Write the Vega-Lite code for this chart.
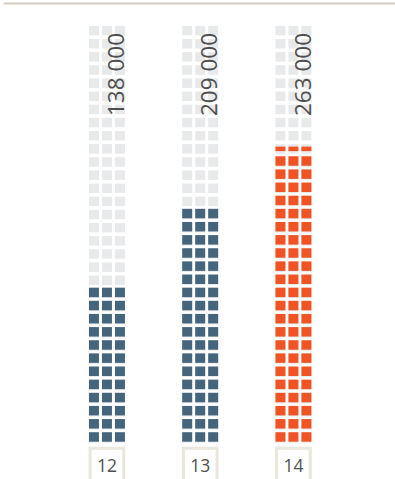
{
  "$schema": "https://vega.github.io/schema/vega-lite/v6.json",
  "autosize": {"type": "none"},
  "padding": {"left": 3, "top": 3, "right": 0, "bottom": 0},
  "width": 392,
  "height": 477,
  "background": "white",
  "config": {"view": {"stroke": null}},
  "datasets": {
    "grid": [
      {"year":"12","row":0,"level":1,"sub":[0,1,2]},{"year":"12","row":1,"level":1,"sub":[0,1,2]},{"year":"12","row":2,"level":1,"sub":[0,1,2]},{"year":"12","row":3,"level":1,"sub":[0,1,2]},
      {"year":"12","row":4,"level":1,"sub":[0,1,2]},{"year":"12","row":5,"level":1,"sub":[0,1,2]},{"year":"12","row":6,"level":1,"sub":[0,1,2]},{"year":"12","row":7,"level":1,"sub":[0,1,2]},
      {"year":"12","row":8,"level":1,"sub":[0,1,2]},{"year":"12","row":9,"level":1,"sub":[0,1,2]},{"year":"12","row":10,"level":1,"sub":[0,1,2]},{"year":"12","row":11,"level":1,"sub":[0,1,2]},
      {"year":"12","row":12,"level":0,"sub":[0,1,2]},{"year":"12","row":13,"level":0,"sub":[0,1,2]},{"year":"12","row":14,"level":0,"sub":[0,1,2]},{"year":"12","row":15,"level":0,"sub":[0,1,2]},
      {"year":"12","row":16,"level":0,"sub":[0,1,2]},{"year":"12","row":17,"level":0,"sub":[0,1,2]},{"year":"12","row":18,"level":0,"sub":[0,1,2]},{"year":"12","row":19,"level":0,"sub":[0,1,2]},
      {"year":"12","row":20,"level":0,"sub":[0,1,2]},{"year":"12","row":21,"level":0,"sub":[0,1,2]},{"year":"12","row":22,"level":0,"sub":[0,1,2]},{"year":"12","row":23,"level":0,"sub":[0,1,2]},
      {"year":"12","row":24,"level":0,"sub":[0,1,2]},{"year":"12","row":25,"level":0,"sub":[0,1,2]},{"year":"12","row":26,"level":0,"sub":[0,1,2]},{"year":"12","row":27,"level":0,"sub":[0,1,2]},
      {"year":"12","row":28,"level":0,"sub":[0,1,2]},{"year":"12","row":29,"level":0,"sub":[0,1,2]},{"year":"12","row":30,"level":0,"sub":[0,1,2]},{"year":"12","row":31,"level":0,"sub":[0,1,2]},
      {"year":"13","row":0,"level":1,"sub":[0,1,2]},{"year":"13","row":1,"level":1,"sub":[0,1,2]},{"year":"13","row":2,"level":1,"sub":[0,1,2]},{"year":"13","row":3,"level":1,"sub":[0,1,2]},
      {"year":"13","row":4,"level":1,"sub":[0,1,2]},{"year":"13","row":5,"level":1,"sub":[0,1,2]},{"year":"13","row":6,"level":1,"sub":[0,1,2]},{"year":"13","row":7,"level":1,"sub":[0,1,2]},
      {"year":"13","row":8,"level":1,"sub":[0,1,2]},{"year":"13","row":9,"level":1,"sub":[0,1,2]},{"year":"13","row":10,"level":1,"sub":[0,1,2]},{"year":"13","row":11,"level":1,"sub":[0,1,2]},
      {"year":"13","row":12,"level":1,"sub":[0,1,2]},{"year":"13","row":13,"level":1,"sub":[0,1,2]},{"year":"13","row":14,"level":1,"sub":[0,1,2]},{"year":"13","row":15,"level":1,"sub":[0,1,2]},
      {"year":"13","row":16,"level":1,"sub":[0,1,2]},{"year":"13","row":17,"level":1,"sub":[0,1,2]},{"year":"13","row":18,"level":0,"sub":[0,1,2]},{"year":"13","row":19,"level":0,"sub":[0,1,2]},
      {"year":"13","row":20,"level":0,"sub":[0,1,2]},{"year":"13","row":21,"level":0,"sub":[0,1,2]},{"year":"13","row":22,"level":0,"sub":[0,1,2]},{"year":"13","row":23,"level":0,"sub":[0,1,2]},
      {"year":"13","row":24,"level":0,"sub":[0,1,2]},{"year":"13","row":25,"level":0,"sub":[0,1,2]},{"year":"13","row":26,"level":0,"sub":[0,1,2]},{"year":"13","row":27,"level":0,"sub":[0,1,2]},
      {"year":"13","row":28,"level":0,"sub":[0,1,2]},{"year":"13","row":29,"level":0,"sub":[0,1,2]},{"year":"13","row":30,"level":0,"sub":[0,1,2]},{"year":"13","row":31,"level":0,"sub":[0,1,2]},
      {"year":"14","row":0,"level":1,"sub":[0,1,2]},{"year":"14","row":1,"level":1,"sub":[0,1,2]},{"year":"14","row":2,"level":1,"sub":[0,1,2]},{"year":"14","row":3,"level":1,"sub":[0,1,2]},
      {"year":"14","row":4,"level":1,"sub":[0,1,2]},{"year":"14","row":5,"level":1,"sub":[0,1,2]},{"year":"14","row":6,"level":1,"sub":[0,1,2]},{"year":"14","row":7,"level":1,"sub":[0,1,2]},
      {"year":"14","row":8,"level":1,"sub":[0,1,2]},{"year":"14","row":9,"level":1,"sub":[0,1,2]},{"year":"14","row":10,"level":1,"sub":[0,1,2]},{"year":"14","row":11,"level":1,"sub":[0,1,2]},
      {"year":"14","row":12,"level":1,"sub":[0,1,2]},{"year":"14","row":13,"level":1,"sub":[0,1,2]},{"year":"14","row":14,"level":1,"sub":[0,1,2]},{"year":"14","row":15,"level":1,"sub":[0,1,2]},
      {"year":"14","row":16,"level":1,"sub":[0,1,2]},{"year":"14","row":17,"level":1,"sub":[0,1,2]},{"year":"14","row":18,"level":1,"sub":[0,1,2]},{"year":"14","row":19,"level":1,"sub":[0,1,2]},
      {"year":"14","row":20,"level":1,"sub":[0,1,2]},{"year":"14","row":21,"level":1,"sub":[0,1,2]},{"year":"14","row":22,"level":0.47,"sub":[0,1,2]},{"year":"14","row":23,"level":0,"sub":[0,1,2]},
      {"year":"14","row":24,"level":0,"sub":[0,1,2]},{"year":"14","row":25,"level":0,"sub":[0,1,2]},{"year":"14","row":26,"level":0,"sub":[0,1,2]},{"year":"14","row":27,"level":0,"sub":[0,1,2]},
      {"year":"14","row":28,"level":0,"sub":[0,1,2]},{"year":"14","row":29,"level":0,"sub":[0,1,2]},{"year":"14","row":30,"level":0,"sub":[0,1,2]},{"year":"14","row":31,"level":0,"sub":[0,1,2]}
    ],
    "totals": [
      {"year":"12","row":31,"label":"138 000"},
      {"year":"13","row":31,"label":"209 000"},
      {"year":"14","row":31,"label":"263 000"}
    ],
    "years": [
      {"year":"12","row":-3},
      {"year":"13","row":-3},
      {"year":"14","row":-3}
    ]
  },
  "encoding": {
    "x": {
      "field": "year", "type": "nominal",
      "scale": {"domain": ["12","13","14"], "paddingInner": 0.614, "paddingOuter": 0.909, "align": 0.507},
      "axis": {"orient": "top", "domainColor": "#d2cebf", "domainWidth": 2, "ticks": false, "labels": false, "title": null, "grid": false}
    },
    "y": {
      "field": "row", "type": "quantitative",
      "scale": {"domain": [-3.2, 33.1], "nice": false, "zero": false},
      "axis": null
    }
  },
  "layer": [
    {
      "data": {"name": "grid"},
      "transform": [{"flatten": ["sub"]}],
      "mark": {"type": "tick", "color": "#e8e9eb", "size": 10, "thickness": 9.5, "opacity": 1},
      "encoding": {
        "xOffset": {"field": "sub", "type": "nominal", "scale": {"paddingInner": 0.23, "paddingOuter": 0}}
      }
    },
    {
      "data": {"name": "grid"},
      "transform": [{"filter": "datum.level == 1"}, {"flatten": ["sub"]}],
      "mark": {"type": "tick", "size": 10, "thickness": 9.5, "yOffset": -1, "opacity": 1},
      "encoding": {
        "xOffset": {"field": "sub", "type": "nominal", "scale": {"paddingInner": 0.23, "paddingOuter": 0}},
        "color": {"field": "year", "type": "nominal", "scale": {"domain": ["12","13","14"], "range": ["#44657c","#44657c","#f05324"]}, "legend": null}
      }
    },
    {
      "data": {"name": "grid"},
      "transform": [{"filter": "datum.level > 0 && datum.level < 1"}, {"flatten": ["sub"]}],
      "mark": {"type": "tick", "size": 10, "thickness": 4.5, "opacity": 1},
      "encoding": {
        "xOffset": {"field": "sub", "type": "nominal", "scale": {"paddingInner": 0.23, "paddingOuter": 0}},
        "color": {"field": "year", "type": "nominal", "scale": {"domain": ["12","13","14"], "range": ["#44657c","#44657c","#f05324"]}, "legend": null}
      }
    },
    {
      "data": {"name": "totals"},
      "mark": {"type": "text", "angle": 270, "align": "right", "baseline": "alphabetic", "dx": -2.4, "dy": 17.2, "font": "Open Sans", "fontSize": 22.5, "color": "#4f4f4f"},
      "encoding": {"text": {"field": "label"}}
    },
    {
      "data": {"name": "years"},
      "mark": {"type": "tick", "color": "white", "fill": "white", "stroke": "#e9e6db", "strokeWidth": 3, "size": 33.7, "thickness": 58.4, "opacity": 1},
      "encoding": {}
    },
    {
      "data": {"name": "years"},
      "mark": {"type": "text", "align": "center", "baseline": "alphabetic", "dy": -5.7, "font": "Open Sans", "fontSize": 17.5, "color": "#4f4f4f"},
      "encoding": {"text": {"field": "year"}}
    }
  ]
}
